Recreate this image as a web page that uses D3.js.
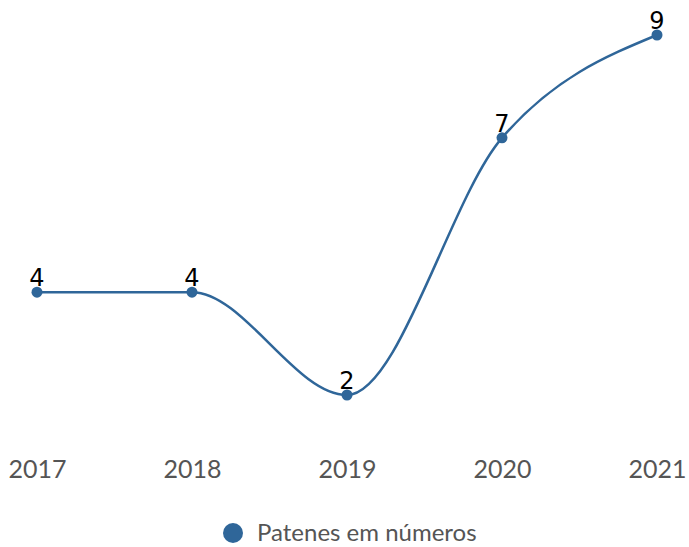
<!DOCTYPE html>
<html>
<head>
<meta charset="utf-8">
<script src="https://cdn.jsdelivr.net/npm/d3@7"></script>
<style>
  body { margin: 0; background: #fff; }
</style>
</head>
<body>
<svg id="chart" width="689" height="547"></svg>
<script>
const years = ["2017", "2018", "2019", "2020", "2021"];
const patents = [4, 4, 2, 7, 9];
const seriesName = "Patenes em números";
const lineColor = "#2f6699";

const svg = d3.select("#chart");

const x = d3.scalePoint()
    .domain(years)
    .range([37, 657]);

const y = d3.scaleLinear()
    .domain([2, 9])
    .range([395, 35]);

const data = years.map((yr, i) => ({ year: yr, value: patents[i] }));

// linha
svg.append("path")
    .datum(data)
    .attr("fill", "none")
    .attr("stroke", lineColor)
    .attr("stroke-width", 2.5)
    .attr("d", d3.line()
        .x(d => x(d.year))
        .y(d => y(d.value))
        .curve(d3.curveMonotoneX));

// pontos
svg.selectAll(".pt")
    .data(data)
    .enter()
    .append("circle")
    .attr("class", "pt")
    .attr("cx", d => x(d.year))
    .attr("cy", d => y(d.value))
    .attr("r", 5.5)
    .attr("fill", lineColor);

// rótulos de valor
svg.selectAll(".lbl")
    .data(data)
    .enter()
    .append("text")
    .attr("class", "lbl")
    .attr("x", d => x(d.year))
    .attr("y", d => y(d.value) - 6)
    .attr("text-anchor", "middle")
    .attr("fill", "#000")
    .style("font-family", "'DejaVu Sans', sans-serif")
    .style("font-size", "24px")
    .text(d => d.value);

// eixo x
const xAxis = svg.append("g")
    .attr("transform", "translate(0, 440)")
    .call(d3.axisBottom(x).tickSize(0).tickPadding(0));
xAxis.select(".domain").remove();
xAxis.selectAll("text")
    .attr("dy", "0")
    .attr("y", 38)
    .attr("fill", "#555")
    .style("font-family", "Lato, sans-serif")
    .style("font-size", "25px");

// legenda
const legend = svg.append("g").attr("transform", "translate(233, 533)");
legend.append("circle")
    .attr("r", 10)
    .attr("fill", lineColor);
legend.append("text")
    .attr("x", 24)
    .attr("y", 8)
    .attr("fill", "#555")
    .style("font-family", "Lato, sans-serif")
    .style("font-size", "24px")
    .text(seriesName);
</script>
</body>
</html>
